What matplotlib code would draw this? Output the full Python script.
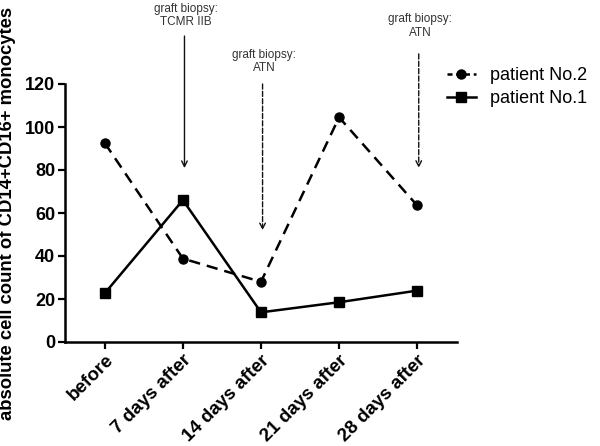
import matplotlib
matplotlib.use("Agg")
import matplotlib.pyplot as plt
from matplotlib.lines import Line2D

plt.rcParams['font.family'] = ['Liberation Sans', 'DejaVu Sans']

categories = ["before", "7 days after", "14 days after", "21 days after", "28 days after"]
patient2 = [92.5, 38.8, 28.0, 104.5, 63.5]
patient1 = [22.7, 66.0, 13.8, 18.5, 23.9]
yticks = [0, 20, 40, 60, 80, 100, 120]

# annotations: (category index, text, arrow start y, arrow tip y, text y, linestyle)
annots = [
    (1, "graft biopsy:\nTCMR IIB", 142.3, 80.9, 152.0, "solid"),
    (2, "graft biopsy:\nATN", 120.0, 52.0, 130.5, "dashed"),
    (4, "graft biopsy:\nATN", 134.0, 81.0, 147.0, "dashed"),
]

fig = plt.figure(figsize=(6.0, 4.46), dpi=100)
ax = fig.add_axes([65/600, 1-342/446, (457-65)/600, (342-84)/446])

x = list(range(len(categories)))
ax.plot(x, patient2, color='black', lw=1.8, ls=(0, (4.5, 2.8)), marker='o', ms=6.5,
        label='patient No.2', clip_on=False)
ax.plot(x, patient1, color='black', lw=1.8, ls='-', marker='s', ms=6.5,
        label='patient No.1', clip_on=False)

ax.set_xlim(-0.51, 4.51)
ax.set_ylim(0, 120)
ax.set_yticks(yticks)
ax.set_xticks(x)
ax.set_xticklabels(categories, rotation=45, ha='right', rotation_mode='anchor',
                   fontsize=13.5, fontweight='bold')
for lab in ax.get_yticklabels():
    lab.set_fontsize(13)
    lab.set_fontweight('bold')
ax.tick_params(axis='both', direction='out', length=5, width=1.6, pad=2)
for s in ['top', 'right']:
    ax.spines[s].set_visible(False)
for s in ['left', 'bottom']:
    ax.spines[s].set_linewidth(1.8)

ax.set_ylabel("absolute cell count of CD14+CD16+ monocytes", fontsize=13.3,
              fontweight='bold')
ax.yaxis.set_label_coords(-0.125, 0.5)

for idx, txt, ys, yt, ytext, lsty in annots:
    ax.annotate("", xy=(idx + 0.02, yt), xytext=(idx + 0.02, ys),
                arrowprops=dict(arrowstyle='->', lw=1.0, color='#111111',
                                linestyle=lsty, mutation_scale=10, shrinkA=0, shrinkB=0),
                annotation_clip=False)
    ax.text(idx + 0.04, ytext, txt, ha='center', va='center', fontsize=8.5,
            color='#333333', linespacing=1.15, clip_on=False)

handles = [
    Line2D([], [], color='black', lw=1.8, ls=(0, (2, 1.5)), marker='o', ms=6.5),
    Line2D([], [], color='black', lw=1.8, ls='-', marker='s', ms=6.5),
]
fig.legend(handles, ['patient No.2', 'patient No.1'], loc='upper left',
           bbox_to_anchor=(438/600, 1-58/446), frameon=False, fontsize=13,
           handlelength=1.6, handletextpad=0.8, labelspacing=0.35, borderpad=0)

fig.savefig("out.png", dpi=100)
